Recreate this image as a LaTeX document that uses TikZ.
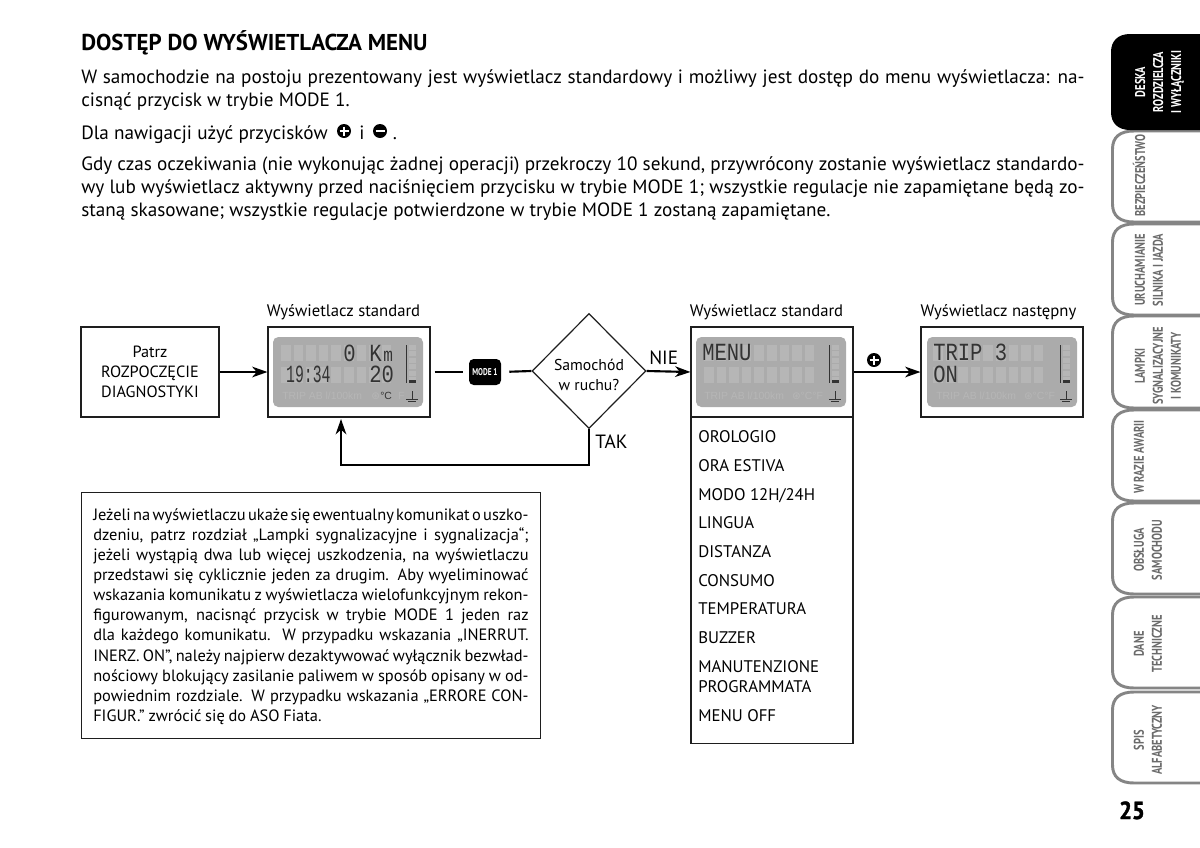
\documentclass[tikz,border=0pt]{standalone}
\usepackage{fontspec}
\usetikzlibrary{arrows.meta,shapes.geometric,positioning}
\setmainfont{PT Sans}
\newfontfamily\lcdfont{Liberation Mono}
\newfontfamily\lcdsans{Liberation Sans}
\newfontfamily\symfont{DejaVu Sans}
\newfontfamily\tabfont[FakeStretch=0.74]{PT Sans}
\newfontfamily\pagefont[BoldFeatures={FakeBold=1.5,FakeStretch=0.92}]{PT Sans}
\newdimen\pxu \pxu=0.75pt
\definecolor{lcdbg}{HTML}{ABABAB}
\definecolor{lcdcell}{HTML}{B6B6B6}
\definecolor{lcdink}{HTML}{333333}
\definecolor{tabgrey}{HTML}{858585}
\definecolor{tabtext}{HTML}{6A6A6A}
\definecolor{rule}{HTML}{1E1E1E}
\tikzset{
  frame/.style={draw=rule,line width=0.8pt,inner sep=0pt,minimum width=162\pxu,minimum height=90\pxu},
  flow/.style={draw=black,line width=1.6pt},
  arrowflow/.style={flow,-{Stealth[length=11.5pt,width=8pt,inset=3.5pt]}},
  captext/.style={font=\fontsize{12.5}{15}\selectfont,anchor=base},
  menuitem/.style={font=\fontsize{12.6}{15}\selectfont,anchor=base west,align=left,inner sep=0pt},
  bodytext/.style={font=\fontsize{14.4}{17.25}\selectfont,anchor=north west,inner sep=0pt,text width=752.5pt,align=justify},
  plusicon/.style={circle,fill=black,minimum size=14\pxu,inner sep=0pt},
  iconbar/.style={white,line width=2.1pt},
  lcdtext/.style={font=\lcdfont\fontsize{15.4}{16}\selectfont,text=lcdink,anchor=base west,inner sep=0pt,transform shape,yscale=1.2,text height=9.5pt,text depth=0pt},
  lcdfaint/.style={font=\lcdsans\fontsize{7.8}{9}\selectfont,text=lcdcell,anchor=base west,inner sep=0pt},
  tabline/.style={draw=tabgrey,line width=2.2pt},
  tablabel/.style={rotate=90,align=center,font=\tabfont\bfseries\fontsize{10.6}{13.5}\selectfont,text=tabtext,inner sep=0pt},
}
% one liquid crystal panel: frame corner at (#1,#2), left edge offset #3, first cell offset #4
\newcommand{\lcdpanel}[4]{%
  \begin{scope}[shift={(#1,#2)}]
    \fill[lcdbg,rounded corners=4pt] (#3,10) rectangle (#3+150,80);
    \foreach \row in {18,40}{
      \foreach \c in {0,...,8}{
        \fill[lcdcell] (#3+#4+\c*12.6,\row) rectangle (#3+#4+9.6+\c*12.6,\row+16);
      }
    }
    \foreach \s in {0,...,5}{
      \fill[lcdcell] (#3+136,18+\s*6.4) rectangle (#3+143,23+\s*6.4);
    }
    \draw[lcdink,line width=1.1pt] (#3+133.5,18) -- (#3+133.5,56);
    \fill[lcdink] (#3+136,53) rectangle (#3+143,56);
    \draw[lcdink,line width=0.5pt] (#3+133,72) -- (#3+145,72) (#3+135,74.5) -- (#3+143,74.5) (#3+139,64) -- (#3+139,72);
  \end{scope}%
}
\begin{document}
\begin{tikzpicture}[x=0.75pt,y=-0.75pt]
\useasboundingbox (0,0) rectangle (1200,847);
\fill[white] (0,0) rectangle (1200,847);

% heading and paragraphs
\node[anchor=base west,inner sep=0pt,font=\bfseries\fontsize{17.2}{19}\selectfont] (title) at (81,50) {DOSTĘP DO WYŚWIETLACZA MENU};
\node[bodytext] (para1) at (81,69) {W samochodzie na postoju prezentowany jest wyświetlacz standardowy i możliwy jest dostęp do menu wyświetlacza: na-\linebreak cisnąć przycisk w trybie MODE 1.};
\node[anchor=base west,inner sep=0pt,font=\fontsize{14.4}{17}\selectfont] (nav) at (81,139) {Dla nawigacji użyć przycisków};
\node[plusicon] (navplus) at (344,131) {};
\draw[iconbar] (339.5,131) -- (348.5,131) (344,126.5) -- (344,135.5);
\node[anchor=base,inner sep=0pt,font=\fontsize{14.4}{17}\selectfont] (navi) at (362,139) {i};
\node[plusicon] (navminus) at (380,131) {};
\draw[iconbar] (375.5,131) -- (384.5,131);
\node[anchor=base,inner sep=0pt,font=\fontsize{14.4}{17}\selectfont] (navdot) at (395,139) {.};
\node[bodytext] (para2) at (81,156) {Gdy czas oczekiwania (nie wykonując żadnej operacji) przekroczy 10 sekund, przywrócony zostanie wyświetlacz standardo-\linebreak wy lub wyświetlacz aktywny przed naciśnięciem przycisku w trybie MODE 1; wszystkie regulacje nie zapamiętane będą zo-\linebreak staną skasowane; wszystkie regulacje potwierdzone w trybie MODE 1 zostaną zapamiętane.};

% flow chart
\node[frame,minimum width=138\pxu,align=center,font=\fontsize{12.2}{15}\selectfont] (start) at (150,372) {Patrz\\ROZPOCZĘCIE\\DIAGNOSTYKI};
\node[frame] (disp1) at (349,372) {};
\node[frame] (disp2) at (772,372) {};
\node[frame] (disp3) at (1002,372) {};
\lcdpanel{268}{327}{5}{8}
\lcdpanel{691}{327}{5}{8}
\lcdpanel{921}{327}{6}{6}
\node[captext] (cap1) at (343.5,316) {Wyświetlacz standard};
\node[captext] (cap2) at (766.5,316) {Wyświetlacz standard};
\node[captext] (cap3) at (998.5,316) {Wyświetlacz następny};

% contents of the panels
\node[lcdtext] (t1a) at (343,361) {0};
\node[lcdtext] (t1b) at (369,361) {K};
\node[lcdtext,font=\lcdfont\fontsize{12}{12}\selectfont,yscale=1,text height=6pt] (t1c) at (383,361) {m};
\node[lcdtext,xscale=0.72] (t1d) at (286,382) {19:34};
\node[lcdtext] (t1e) at (369,382) {20};
\node[lcdfaint] (f1) at (282,399) {TRIP AB l/100km};
\node[lcdfaint] (f1s) at (371,399) {{\symfont ⊛}};
\node[lcdfaint,text=lcdink] (f1c) at (380,399) {°C};
\node[lcdfaint] (f1f) at (398,399) {F};
\node[lcdtext] (t2a) at (702,360) {MENU};
\node[lcdfaint] (f2) at (704,399) {TRIP AB l/100km\hspace{6pt}{\symfont ⊛}°C°F};
\node[lcdtext] (t3a) at (933,360) {TRIP 3};
\node[lcdtext] (t3b) at (933,382) {ON};
\node[lcdfaint] (f3) at (936,399) {TRIP AB l/100km\hspace{6pt}{\symfont ⊛}°C°F};

\node[fill=black,rounded corners=3.5pt,minimum width=32\pxu,minimum height=26\pxu,inner sep=0pt,text=white,font=\tabfont\bfseries\fontsize{7.4}{9}\selectfont] (mode) at (485,372) {MODE 1};
\node[diamond,draw=rule,line width=0.9pt,minimum width=114\pxu,minimum height=115\pxu,inner sep=0pt] (dia) at (589,371) {};
\node[align=center,inner sep=0pt,font=\fontsize{11.8}{15}\selectfont] (diatext) at (589,375) {Samochód\\w ruchu?};
\node[anchor=base west,inner sep=0pt,font=\fontsize{14.4}{15}\selectfont] (nie) at (649,364) {NIE};
\node[anchor=base west,inner sep=0pt,font=\fontsize{14.4}{15}\selectfont] (tak) at (595,448) {TAK};
\node[plusicon] (plus) at (874,360) {};
\draw[iconbar] (869.5,360) -- (878.5,360) (874,355.5) -- (874,364.5);

\coordinate (retcorner) at (341,465);
\coordinate (rettip) at (341,419);
\draw[arrowflow] (start.east) -- (disp1.west);
\draw[flow,shorten <=4\pxu,shorten >=6\pxu] (disp1.east) -- (mode.west);
\draw[flow,shorten <=8\pxu] (mode.east) -- (dia.west);
\draw[arrowflow] (dia.east) -- (disp2.west);
\draw[arrowflow] (disp2.east) -- (disp3.west);
\draw[arrowflow] (dia.south) |- (retcorner) -- (rettip);

% menu list below the second panel
\node[draw=rule,line width=0.8pt,inner sep=0pt,minimum width=162\pxu,minimum height=326\pxu,anchor=north] (menubox) at (772,417) {};
\foreach \name/\y/\label in {m1/442/OROLOGIO,m2/471/ORA ESTIVA,m3/500/{MODO 12H/24H},m4/528/LINGUA,m5/557/DISTANZA,m6/586/CONSUMO,m7/614/TEMPERATURA,m8/643/BUZZER,m9/672/MANUTENZIONE,m10/692/PROGRAMMATA,m11/721/MENU OFF}{
  \node[menuitem] (\name) at (698,\y) {\label};
}

% note in a box
\node[draw=rule,line width=0.8pt,anchor=north west,inner sep=0pt,minimum width=459\pxu,minimum height=246\pxu] (notebox) at (81,492) {};
\node[anchor=north west,inner sep=0pt,text width=326.5pt,align=justify,font=\fontsize{12.3}{15.1}\selectfont] (note) at (93,508) {\spaceskip=0.23em plus 0.2em minus 0.1em Jeżeli na wyświetlaczu ukaże się ewentualny komunikat o uszko-\linebreak dzeniu, patrz rozdział „Lampki sygnalizacyjne i sygnalizacja“;\linebreak jeżeli wystąpią dwa lub więcej uszkodzenia, na wyświetlaczu\linebreak przedstawi się cyklicznie jeden za drugim. Aby wyeliminować\linebreak wskazania komunikatu z wyświetlacza wielofunkcyjnym rekon-\linebreak figurowanym, nacisnąć przycisk w trybie MODE 1 jeden raz\linebreak dla każdego komunikatu. W przypadku wskazania „INERRUT.\linebreak INERZ. ON”, należy najpierw dezaktywować wyłącznik bezwład-\linebreak nościowy blokujący zasilanie paliwem w sposób opisany w od-\linebreak powiednim rozdziale. W przypadku wskazania „ERRORE CON-\linebreak FIGUR.” zwrócić się do ASO Fiata.};

% chapter tabs along the right edge
\foreach \top/\bot in {131/222,224/315,316/408,410/501,503/594,597/688,692/783}{
  \draw[tabline] (1200,\top) -- (1134,\top) .. controls (1120,\top) and (1112.5,\top+6) .. (1112.5,\top+18)
    -- (1112.5,\bot-18) .. controls (1112.5,\bot-6) and (1120,\bot) .. (1134,\bot) -- (1200,\bot);
}
\fill[black] (1200,34) -- (1130,34) .. controls (1118,34) and (1111,41) .. (1111,52)
  -- (1111,112) .. controls (1111,123) and (1118,130) .. (1130,130) -- (1200,130) -- cycle;
\node[tablabel,text=white] (tab0) at (1159.5,82) {DESKA\\ROZDZIELCZA\\I WYŁĄCZNIKI};
\node[tablabel] (tab1) at (1139,175.5) {BEZPIECZEŃSTWO};
\node[tablabel] (tab2) at (1149,270) {URUCHAMIANIE\\SILNIKA I JAZDA};
\node[tablabel] (tab3) at (1158,366) {LAMPKI\\SYGNALIZACYJNE\\I KOMUNIKATY};
\node[tablabel] (tab4) at (1139,457) {W RAZIE AWARII};
\node[tablabel] (tab5) at (1148,550) {OBSŁUGA\\SAMOCHODU};
\node[tablabel] (tab6) at (1148,644) {DANE\\TECHNICZNE};
\node[tablabel] (tab7) at (1148,740) {SPIS\\ALFABETYCZNY};
\node[anchor=base,inner sep=0pt,font=\pagefont\bfseries\fontsize{18.5}{20}\selectfont] (pageno) at (1132,819) {25};
\end{tikzpicture}
\end{document}
